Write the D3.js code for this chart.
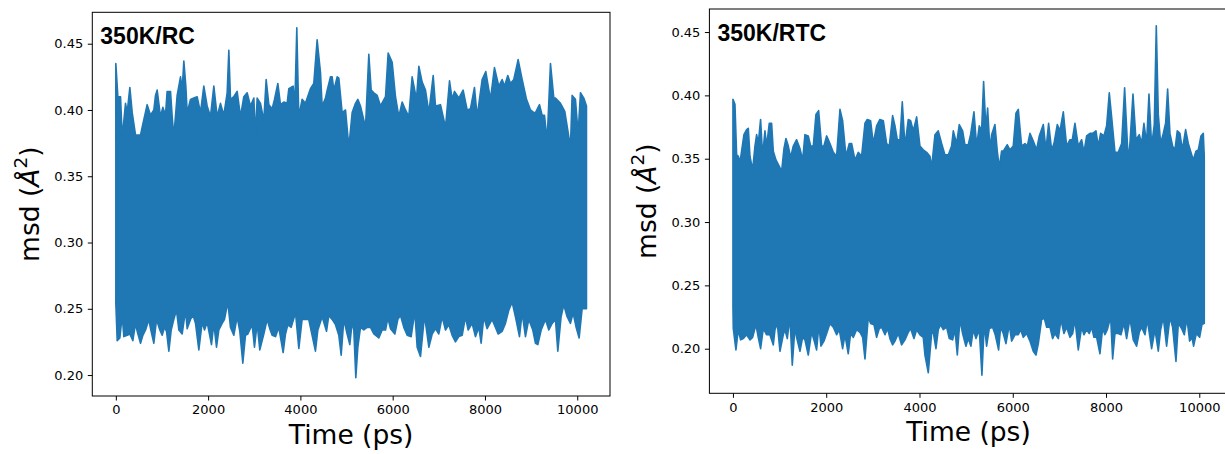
<!DOCTYPE html>
<html>
<head>
<meta charset="utf-8">
<script src="https://cdn.jsdelivr.net/npm/d3@7"></script>
<style>
  body { margin: 0; background: #fff; }
  svg { display: block; font-family: "DejaVu Sans", sans-serif; }
</style>
</head>
<body>
<div id="chart"></div>
<script>
// The traces are too dense to follow point by point, so they are kept as
// their upper and lower outline (time in ps, msd).

// 350K/RC, upper outline
const rcUpperTime = [
  0, 44, 102, 138, 210, 246, 304, 355, 427, 535, 571, 679, 752, 824, 860, 896, 968, 1019, 1076, 1112,
  1185, 1221, 1257, 1329, 1402, 1438, 1474, 1517, 1546, 1618, 1690, 1762, 1835, 1907, 1979, 2051, 2124, 2196, 2268, 2340,
  2413, 2449, 2485, 2557, 2629, 2702, 2774, 2846, 2918, 2991, 3027, 3063, 3135, 3207, 3258, 3316, 3388, 3439, 3511, 3568,
  3641, 3713, 3749, 3843, 3879, 3922, 3965, 4037, 4109, 4218, 4290, 4363, 4436, 4471, 4544, 4581, 4652, 4688, 4725, 4797,
  4833, 4905, 4978, 5050, 5122, 5194, 5245, 5302, 5411, 5483, 5534, 5592, 5664, 5736, 5845, 5902, 5989, 6061, 6133, 6206,
  6278, 6350, 6422, 6516, 6567, 6639, 6711, 6784, 6878, 6928, 7036, 7145, 7232, 7289, 7339, 7433, 7527, 7614, 7686, 7773,
  7831, 7939, 8018, 8119, 8206, 8300, 8372, 8423, 8495, 8553, 8625, 8719, 8806, 8900, 8987, 9059, 9095, 9182, 9239, 9290,
  9348, 9420, 9492, 9528, 9637, 9730, 9853, 9889, 9961, 10019, 10070, 10142, 10200
];
const rcUpper = [
  0.435, 0.410, 0.410, 0.379, 0.405, 0.398, 0.417, 0.398, 0.381, 0.381, 0.387, 0.404, 0.396, 0.400, 0.411, 0.415, 0.395, 0.402, 0.396, 0.414,
  0.414, 0.395, 0.380, 0.411, 0.425, 0.415, 0.437, 0.418, 0.398, 0.408, 0.409, 0.410, 0.398, 0.418, 0.403, 0.395, 0.418, 0.395, 0.405, 0.396,
  0.413, 0.445, 0.408, 0.410, 0.414, 0.395, 0.410, 0.413, 0.403, 0.409, 0.380, 0.409, 0.405, 0.392, 0.423, 0.404, 0.401, 0.408, 0.420, 0.404,
  0.406, 0.405, 0.416, 0.418, 0.403, 0.462, 0.395, 0.408, 0.405, 0.416, 0.420, 0.453, 0.428, 0.403, 0.409, 0.415, 0.425, 0.425, 0.415, 0.425,
  0.424, 0.398, 0.400, 0.372, 0.398, 0.405, 0.408, 0.403, 0.387, 0.442, 0.415, 0.413, 0.411, 0.403, 0.410, 0.443, 0.436, 0.410, 0.395, 0.406,
  0.400, 0.395, 0.425, 0.408, 0.433, 0.421, 0.415, 0.398, 0.426, 0.403, 0.404, 0.387, 0.422, 0.408, 0.414, 0.409, 0.415, 0.400, 0.401, 0.417,
  0.395, 0.423, 0.429, 0.408, 0.432, 0.418, 0.423, 0.418, 0.426, 0.420, 0.423, 0.438, 0.423, 0.408, 0.400, 0.398, 0.398, 0.404, 0.396, 0.396,
  0.377, 0.435, 0.409, 0.409, 0.405, 0.399, 0.372, 0.411, 0.408, 0.382, 0.413, 0.409, 0.403
];
// 350K/RC, lower outline
const rcLowerTime = [
  0, 30, 87, 138, 174, 246, 304, 369, 427, 463, 535, 586, 644, 716, 752, 824, 882, 954, 1004, 1055,
  1099, 1149, 1200, 1257, 1315, 1366, 1438, 1510, 1546, 1618, 1676, 1727, 1799, 1871, 1922, 1979, 2073, 2124, 2182, 2232,
  2304, 2355, 2427, 2485, 2557, 2629, 2687, 2752, 2810, 2861, 2954, 3005, 3063, 3120, 3207, 3280, 3337, 3388, 3460, 3532,
  3626, 3677, 3727, 3800, 3894, 3966, 4037, 4109, 4181, 4254, 4326, 4378, 4472, 4566, 4616, 4688, 4761, 4833, 4884, 4941,
  5013, 5071, 5122, 5158, 5201, 5245, 5302, 5375, 5447, 5519, 5592, 5700, 5772, 5845, 5895, 5953, 6047, 6112, 6170, 6242,
  6314, 6401, 6480, 6531, 6603, 6690, 6784, 6856, 6928, 7000, 7072, 7145, 7217, 7289, 7361, 7433, 7506, 7578, 7636, 7722,
  7794, 7867, 7917, 7975, 8047, 8155, 8228, 8286, 8372, 8444, 8517, 8589, 8661, 8748, 8806, 8878, 8950, 9037, 9095, 9146,
  9218, 9312, 9384, 9456, 9528, 9579, 9650, 9708, 9781, 9853, 9911, 9976, 10041, 10106, 10178, 10200
];
const rcLower = [
  0.254, 0.226, 0.228, 0.245, 0.229, 0.230, 0.231, 0.226, 0.239, 0.233, 0.224, 0.230, 0.234, 0.242, 0.235, 0.224, 0.242, 0.234, 0.230, 0.236,
  0.233, 0.218, 0.234, 0.242, 0.249, 0.234, 0.231, 0.249, 0.235, 0.242, 0.245, 0.239, 0.219, 0.240, 0.234, 0.240, 0.223, 0.239, 0.221, 0.234,
  0.239, 0.242, 0.255, 0.236, 0.230, 0.244, 0.233, 0.209, 0.230, 0.231, 0.238, 0.221, 0.239, 0.219, 0.231, 0.242, 0.235, 0.230, 0.229, 0.236,
  0.217, 0.231, 0.238, 0.236, 0.247, 0.220, 0.242, 0.242, 0.242, 0.230, 0.218, 0.234, 0.244, 0.233, 0.245, 0.242, 0.238, 0.230, 0.215, 0.242,
  0.231, 0.223, 0.240, 0.234, 0.198, 0.221, 0.236, 0.234, 0.236, 0.236, 0.231, 0.228, 0.234, 0.234, 0.243, 0.235, 0.231, 0.242, 0.245, 0.236,
  0.230, 0.229, 0.248, 0.221, 0.214, 0.245, 0.221, 0.231, 0.235, 0.231, 0.244, 0.234, 0.238, 0.230, 0.225, 0.229, 0.230, 0.244, 0.234, 0.239,
  0.229, 0.236, 0.224, 0.244, 0.235, 0.242, 0.236, 0.231, 0.233, 0.239, 0.249, 0.255, 0.244, 0.229, 0.247, 0.229, 0.242, 0.234, 0.224, 0.223,
  0.234, 0.242, 0.234, 0.239, 0.242, 0.218, 0.244, 0.253, 0.244, 0.239, 0.247, 0.236, 0.228, 0.250, 0.250, 0.250
];

// 350K/RTC, upper outline
const rtcUpperTime = [
  0, 43, 79, 114, 150, 236, 293, 329, 365, 422, 472, 508, 543, 593, 636, 686, 722, 779, 829, 865,
  922, 994, 1044, 1094, 1137, 1187, 1237, 1294, 1365, 1437, 1494, 1544, 1615, 1666, 1723, 1780, 1837, 1901, 1951, 2009,
  2080, 2152, 2223, 2295, 2352, 2423, 2495, 2545, 2616, 2688, 2759, 2831, 2881, 2952, 3009, 3081, 3152, 3224, 3295, 3352,
  3424, 3474, 3524, 3581, 3631, 3688, 3760, 3810, 3867, 3939, 4010, 4081, 4153, 4224, 4260, 4332, 4403, 4475, 4546, 4618,
  4689, 4725, 4796, 4853, 4925, 4975, 5046, 5096, 5168, 5225, 5282, 5332, 5375, 5425, 5461, 5511, 5547, 5618, 5668, 5711,
  5761, 5797, 5883, 5940, 6011, 6069, 6119, 6190, 6262, 6312, 6369, 6440, 6512, 6569, 6655, 6712, 6769, 6833, 6884, 6955,
  7012, 7084, 7155, 7227, 7277, 7334, 7405, 7477, 7527, 7584, 7656, 7713, 7784, 7834, 7884, 7956, 8013, 8070, 8120, 8192,
  8263, 8335, 8399, 8477, 8513, 8578, 8642, 8713, 8764, 8813, 8870, 8921, 8978, 9035, 9078, 9121, 9171, 9228, 9278, 9321,
  9371, 9428, 9478, 9528, 9585, 9636, 9707, 9764, 9814, 9871, 9929, 9979, 10036, 10086, 10107
];
const rtcUpper = [
  0.397, 0.393, 0.353, 0.352, 0.347, 0.369, 0.373, 0.374, 0.352, 0.341, 0.360, 0.369, 0.362, 0.381, 0.352, 0.372, 0.360, 0.378, 0.378, 0.356,
  0.349, 0.344, 0.340, 0.358, 0.366, 0.360, 0.351, 0.360, 0.365, 0.358, 0.349, 0.369, 0.368, 0.360, 0.360, 0.385, 0.388, 0.360, 0.360, 0.368,
  0.362, 0.355, 0.352, 0.389, 0.380, 0.352, 0.362, 0.362, 0.349, 0.355, 0.352, 0.378, 0.381, 0.380, 0.362, 0.376, 0.381, 0.380, 0.362, 0.360,
  0.384, 0.376, 0.365, 0.365, 0.395, 0.360, 0.381, 0.380, 0.372, 0.383, 0.360, 0.357, 0.355, 0.352, 0.343, 0.369, 0.372, 0.362, 0.353, 0.353,
  0.360, 0.372, 0.362, 0.377, 0.372, 0.361, 0.361, 0.369, 0.387, 0.360, 0.376, 0.372, 0.411, 0.373, 0.390, 0.357, 0.369, 0.377, 0.356, 0.343,
  0.356, 0.356, 0.361, 0.357, 0.360, 0.386, 0.389, 0.360, 0.362, 0.360, 0.370, 0.364, 0.357, 0.368, 0.377, 0.357, 0.378, 0.357, 0.362, 0.377,
  0.372, 0.387, 0.360, 0.365, 0.365, 0.378, 0.360, 0.365, 0.355, 0.368, 0.370, 0.370, 0.372, 0.360, 0.370, 0.368, 0.376, 0.402, 0.383, 0.355,
  0.355, 0.362, 0.406, 0.348, 0.362, 0.401, 0.365, 0.369, 0.362, 0.378, 0.362, 0.401, 0.360, 0.377, 0.455, 0.385, 0.362, 0.370, 0.378, 0.405,
  0.370, 0.360, 0.357, 0.372, 0.370, 0.357, 0.373, 0.362, 0.356, 0.349, 0.356, 0.357, 0.368, 0.370, 0.352
];
// 350K/RTC, lower outline
const rtcLowerTime = [
  0, 7, 64, 114, 164, 222, 293, 365, 422, 493, 543, 593, 651, 722, 793, 865, 901, 951, 1008, 1079,
  1115, 1165, 1222, 1272, 1330, 1365, 1437, 1494, 1544, 1615, 1687, 1744, 1794, 1844, 1887, 1951, 2009, 2080, 2152, 2223,
  2280, 2352, 2402, 2473, 2523, 2580, 2652, 2723, 2781, 2831, 2902, 2952, 3024, 3081, 3138, 3188, 3260, 3317, 3367, 3424,
  3474, 3545, 3617, 3688, 3760, 3810, 3881, 3939, 4010, 4081, 4117, 4189, 4260, 4296, 4353, 4403, 4453, 4510, 4582, 4639,
  4711, 4761, 4811, 4868, 4925, 4996, 5046, 5103, 5153, 5211, 5282, 5339, 5389, 5439, 5497, 5568, 5625, 5697, 5740, 5797,
  5854, 5926, 5976, 6047, 6119, 6169, 6226, 6298, 6369, 6440, 6498, 6548, 6619, 6677, 6727, 6798, 6855, 6905, 6977, 7034,
  7098, 7155, 7227, 7284, 7334, 7405, 7477, 7527, 7584, 7641, 7691, 7741, 7799, 7870, 7927, 7977, 8027, 8099, 8142, 8192,
  8263, 8320, 8385, 8442, 8513, 8585, 8656, 8713, 8764, 8835, 8885, 8942, 8978, 9050, 9121, 9171, 9228, 9299, 9371, 9428,
  9500, 9550, 9621, 9678, 9735, 9793, 9843, 9878, 9936, 10007, 10057, 10107
];
const rtcLower = [
  0.233, 0.216, 0.199, 0.215, 0.207, 0.208, 0.211, 0.207, 0.209, 0.219, 0.209, 0.200, 0.216, 0.211, 0.211, 0.203, 0.215, 0.220, 0.198, 0.211,
  0.215, 0.208, 0.225, 0.187, 0.217, 0.209, 0.198, 0.209, 0.207, 0.195, 0.213, 0.206, 0.199, 0.219, 0.202, 0.206, 0.212, 0.220, 0.217, 0.211,
  0.215, 0.200, 0.211, 0.196, 0.212, 0.209, 0.215, 0.213, 0.209, 0.192, 0.225, 0.220, 0.219, 0.209, 0.216, 0.217, 0.211, 0.216, 0.208, 0.203,
  0.206, 0.212, 0.203, 0.207, 0.213, 0.216, 0.208, 0.215, 0.211, 0.209, 0.195, 0.181, 0.212, 0.213, 0.200, 0.215, 0.219, 0.215, 0.217, 0.208,
  0.207, 0.215, 0.195, 0.223, 0.212, 0.202, 0.208, 0.202, 0.215, 0.208, 0.215, 0.179, 0.220, 0.202, 0.216, 0.217, 0.211, 0.199, 0.217, 0.212,
  0.204, 0.219, 0.206, 0.211, 0.211, 0.215, 0.209, 0.212, 0.206, 0.198, 0.195, 0.204, 0.223, 0.224, 0.217, 0.217, 0.208, 0.212, 0.208, 0.223,
  0.212, 0.217, 0.209, 0.212, 0.223, 0.199, 0.217, 0.211, 0.215, 0.212, 0.217, 0.209, 0.209, 0.196, 0.216, 0.211, 0.215, 0.225, 0.192, 0.212,
  0.212, 0.211, 0.220, 0.208, 0.224, 0.207, 0.202, 0.213, 0.217, 0.211, 0.223, 0.209, 0.200, 0.215, 0.198, 0.215, 0.225, 0.202, 0.225, 0.217,
  0.190, 0.220, 0.216, 0.211, 0.224, 0.206, 0.209, 0.202, 0.212, 0.209, 0.219, 0.220
];

const xTicks = [0, 2000, 4000, 6000, 8000, 10000];
const yTicks = [0.20, 0.25, 0.30, 0.35, 0.40, 0.45];

const blue = "#1f77b4";

const panels = [
  { title: "350K/RC",
    upT: rcUpperTime, up: rcUpper, loT: rcLowerTime, lo: rcLower,
    box: { left: 92.3, top: 12.3, right: 610, bottom: 396 },
    xDomain: [-510, 10710], yDomain: [0.1842, 0.4737] },
  { title: "350K/RTC",
    upT: rtcUpperTime, up: rtcUpper, loT: rtcLowerTime, lo: rtcLower,
    box: { left: 709.4, top: 9, right: 1227.5, bottom: 393.3 },
    xDomain: [-505, 10605], yDomain: [0.1648, 0.4682] }
];

const svg = d3.select("#chart").append("svg")
  .attr("width", 1225)
  .attr("height", 454);

panels.forEach((p, k) => {
  const b = p.box;
  const x = d3.scaleLinear().domain(p.xDomain).range([b.left, b.right]);
  const y = d3.scaleLinear().domain(p.yDomain).range([b.bottom, b.top]);

  svg.append("clipPath").attr("id", "clip" + k)
    .append("rect")
    .attr("x", b.left).attr("y", b.top)
    .attr("width", b.right - b.left).attr("height", b.bottom - b.top);

  // outline of the trace: along the top, then back along the bottom
  const upper = p.upT.map((t, i) => [t, p.up[i]]);
  const lower = p.loT.map((t, i) => [t, p.lo[i]]).reverse();
  const outline = d3.line().x(d => x(d[0])).y(d => y(d[1]));

  svg.append("g").attr("clip-path", `url(#clip${k})`)
    .append("path")
    .datum(upper.concat(lower))
    .attr("fill", blue)
    .attr("stroke", blue)
    .attr("stroke-width", 1.6)
    .attr("stroke-linejoin", "round")
    .attr("d", d => outline(d) + "Z");

  // axes
  const gx = svg.append("g")
    .attr("transform", `translate(0,${b.bottom})`)
    .call(d3.axisBottom(x).tickValues(xTicks).tickFormat(d3.format("d")).tickSize(4.5).tickPadding(4.5));
  const gy = svg.append("g")
    .attr("transform", `translate(${b.left},0)`)
    .call(d3.axisLeft(y).tickValues(yTicks).tickFormat(d3.format(".2f")).tickSize(4.5).tickPadding(4.5));
  [gx, gy].forEach(g => {
    g.select(".domain").remove();
    g.selectAll("line").attr("stroke", "#000").attr("stroke-width", 1);
    g.selectAll("text").attr("fill", "#000")
      .style("font-family", "'DejaVu Sans', sans-serif").style("font-size", "13px");
  });

  svg.append("rect")
    .attr("x", b.left).attr("y", b.top)
    .attr("width", b.right - b.left).attr("height", b.bottom - b.top)
    .attr("fill", "none").attr("stroke", "#000").attr("stroke-width", 1);

  svg.append("text")
    .attr("x", b.left + 8)
    .attr("y", b.top + 32)
    .style("font-family", "'Liberation Sans', Arial, sans-serif")
    .style("font-weight", "bold")
    .style("font-size", "23px")
    .attr("fill", "#000")
    .text(p.title);

  svg.append("text")
    .attr("x", (b.left + b.right) / 2)
    .attr("y", b.bottom + 48)
    .attr("text-anchor", "middle")
    .style("font-size", "26.5px")
    .attr("fill", "#000")
    .text("Time (ps)");

  const yl = svg.append("text")
    .attr("transform", `translate(${b.left - 53},${(b.top + b.bottom) / 2}) rotate(-90)`)
    .attr("text-anchor", "middle")
    .style("font-size", "26.5px")
    .attr("fill", "#000");
  yl.append("tspan").text("msd (");
  yl.append("tspan").style("font-style", "italic").text("Å");
  yl.append("tspan").attr("dy", -12).style("font-size", "18.5px").text("2");
  yl.append("tspan").attr("dy", 12).text(")");
});
</script>
</body>
</html>
